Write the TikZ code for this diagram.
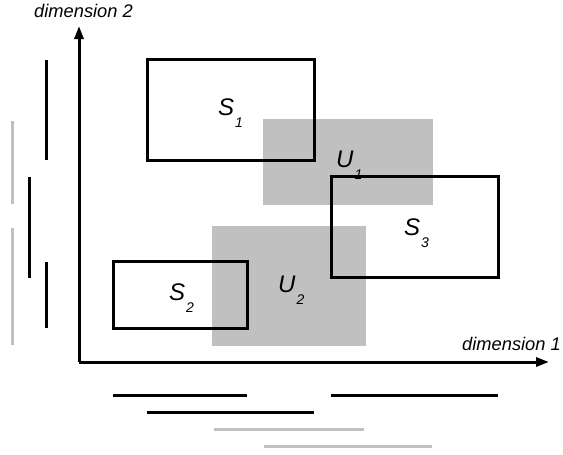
\documentclass[tikz,border=0pt]{standalone}
\usepackage{fontspec}
\setmainfont{Liberation Sans}
\usetikzlibrary{arrows.meta}
\tikzset{
  setbox/.style={draw=black, line width=3pt},
  unionbox/.style={fill=grayfill, draw=none},
  bar/.style={line width=3pt, black},
  graybar/.style={line width=3pt, grayline},
  axis/.style={line width=3pt, -{Triangle[length=13pt,width=9pt]}},
  lbl/.style={inner sep=0pt, anchor=base west, font=\fontsize{24}{24}\selectfont\itshape},
  axlbl/.style={inner sep=0pt, anchor=base west, font=\fontsize{18.3}{18}\selectfont\itshape}
}
\definecolor{grayfill}{RGB}{192,192,192}
\definecolor{grayline}{RGB}{192,192,192}
\newcommand{\sub}[1]{\kern1pt\raisebox{-12pt}{\fontsize{14}{14}\selectfont #1}}
\begin{document}
\begin{tikzpicture}[x=1pt,y=-1pt]
\useasboundingbox (0,0) rectangle (563,455);
% union regions
\fill[unionbox] (263,119) rectangle (433,205);
\fill[unionbox] (212,226) rectangle (366,346);
% sets
\draw[setbox] (147,59) rectangle (314,160);
\draw[setbox] (331,176) rectangle (498,277);
\draw[setbox] (113,261) rectangle (247,328);
% labels
\node[lbl] (s1) at (218,115) {S\sub{1}};
\node[lbl] (u1) at (336,167) {U\sub{1}};
\node[lbl] (s3) at (404,235) {S\sub{3}};
\node[lbl] (s2) at (169,300) {S\sub{2}};
\node[lbl] (u2) at (278,292) {U\sub{2}};
% axes
\coordinate (o) at (79,362);
\coordinate (ytip) at (79,26);
\coordinate (xtip) at (549,362);
\draw[axis] (o) -- (ytip);
\draw[axis] (o) -- (xtip);
\node[axlbl] (d2) at (34,17) {dimension 2};
\node[axlbl] (d1) at (462,350) {dimension 1};
% projections on dimension 2
\draw[bar] (46,60) -- (46,160);
\draw[graybar] (12,121) -- (12,204);
\draw[bar] (29,177) -- (29,278);
\draw[graybar] (12,228) -- (12,345);
\draw[bar] (46,262) -- (46,328);
% projections on dimension 1
\draw[bar] (113,395) -- (247,395);
\draw[bar] (331,395) -- (498,395);
\draw[bar] (147,412) -- (314,412);
\draw[graybar] (214,429) -- (364,429);
\draw[graybar] (264,446) -- (432,446);
\end{tikzpicture}
\end{document}
